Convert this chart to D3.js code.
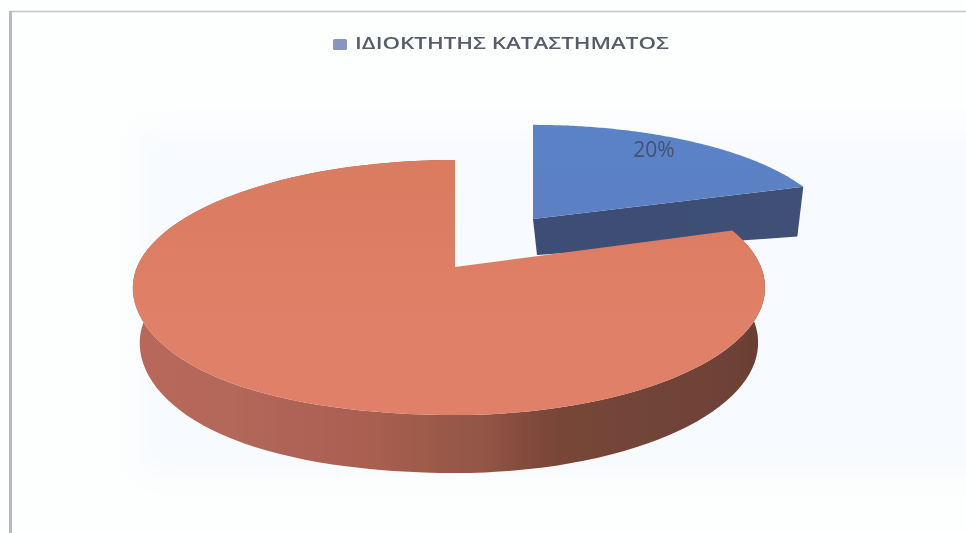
<html>

<head>
  <meta charset="utf-8">
  <style>
    html, body { margin: 0; padding: 0; background: #fdfefe; }
    svg { display: block; }
    text { font-family: "Open Sans", "Noto Sans", sans-serif; }
  </style>
</head>

<body>
  <svg id="chart"></svg>
  <script src="https://cdn.jsdelivr.net/npm/d3@7"></script>
  <script>
    // data
    var values = [20, 80];
    var labels = ["20%", ""];
    var legendItems = ["ΙΔΙΟΚΤΗΤΗΣ ΚΑΤΑΣΤΗΜΑΤΟΣ"];

    var width = 966, height = 533;
    var persp = 0.161; // the back of the disc looks smaller than the front

    // where each slice sits once it is pulled apart
    var placeBlue = { x: 533, y: 219, sx: 0.975, sy: 0.88 };
    var placeOrange = { x: 455, y: 267, sx: 1, sy: 1 };

    var svg = d3.select("#chart").attr("width", width).attr("height", height);
    var defs = svg.append("defs");

    // the reference is a soft scan
    defs.append("filter").attr("id", "soft")
      .append("feGaussianBlur").attr("stdDeviation", 0.6);
    defs.append("filter").attr("id", "haze")
      .attr("x", "-10%").attr("y", "-10%").attr("width", "120%").attr("height", "120%")
      .append("feGaussianBlur").attr("stdDeviation", 14);

    function gradient(id, x1, x2, y1, y2, stops) {
      var g = defs.append("linearGradient").attr("id", id)
        .attr("gradientUnits", "userSpaceOnUse")
        .attr("x1", x1).attr("x2", x2).attr("y1", y1).attr("y2", y2);
      stops.forEach(function (s) {
        g.append("stop").attr("offset", s[0]).attr("stop-color", s[1]);
      });
    }
    gradient("orangeWall", 140, 760, 0, 0, [
      [0, "#b8675a"], [0.15, "#b3675a"], [0.37, "#a95f50"], [0.55, "#935645"],
      [0.66, "#7a4638"], [0.8, "#714438"], [0.94, "#6e4337"], [1, "#6a4035"]
    ]);
    gradient("orangeTop", 0, 0, 160, 415, [[0, "#d97b60"], [0.6, "#df8067"], [1, "#e08068"]]);
    gradient("blueTop", 0, 0, 124, 235, [[0, "#5a83c8"], [1, "#5b80c2"]]);
    gradient("blueWall", 537, 800, 0, 0, [[0, "#3c4d74"], [1, "#3f5074"]]);

    // angle + radius on the pie -> screen position
    function project(angle, r, place, drop) {
      var u = Math.sin(angle) * r;
      var v = -Math.cos(angle) * r;
      var den = 1 - persp * v;
      var ax = u < 0 ? 318 : 306;
      var p = [
        place.x + place.sx * ax * u / den,
        place.y + place.sy * 124.2 * v / den
      ];
      // lower left of the disc bulges a little in the scan
      if (u < 0 && v > 0) p[1] += 16 * u * u * v * v;
      if (drop) {
        var d = drop(u, v);
        p[0] += d[0];
        p[1] += d[1];
      }
      return p;
    }

    // offset of the underside of the disc
    function dropOrange(u, v) { return [-u * 7, 54 + 4 * v]; }
    function dropBlue(u, v) { return [4 - 10.5 * u, 36 + 14.5 * u]; }

    function arcPoints(a0, a1, place, drop) {
      return d3.range(0, 121).map(function (i) {
        return project(a0 + (a1 - a0) * i / 120, 1, place, drop);
      });
    }

    var line = d3.line();
    var pie = d3.pie().sort(null);
    var slices = pie(values);
    var blue = slices[0], orange = slices[1];

    // faint blue cast behind the chart
    svg.append("rect")
      .attr("x", 140).attr("y", 130).attr("width", 860).attr("height", 345)
      .attr("fill", "#f7fafe").attr("filter", "url(#haze)");

    var marks = svg.append("g").attr("filter", "url(#soft)");

    // blue slice: front wall, then top
    var bApex = project(0, 0, placeBlue);
    var bApexLow = project(0, 0, placeBlue, dropBlue);
    var bCorner = project(blue.endAngle, 1, placeBlue);
    var bCornerLow = project(blue.endAngle, 1, placeBlue, dropBlue);
    marks.append("path")
      .attr("d", line([bApex, bCorner, bCornerLow, bApexLow]) + "Z")
      .attr("fill", "url(#blueWall)");
    marks.append("path")
      .attr("d", line([bApex].concat(arcPoints(blue.startAngle, blue.endAngle, placeBlue))) + "Z")
      .attr("fill", "url(#blueTop)");

    // orange slice: rim wall, then top
    var rimTop = arcPoints(orange.startAngle, orange.endAngle, placeOrange);
    var rimLow = arcPoints(orange.startAngle, orange.endAngle, placeOrange, dropOrange);
    marks.append("path")
      .attr("d", line(rimTop.concat(rimLow.reverse())) + "Z")
      .attr("fill", "url(#orangeWall)");
    marks.append("path")
      .attr("d", line([project(0, 0, placeOrange)].concat(rimTop)) + "Z")
      .attr("fill", "url(#orangeTop)");

    // data label
    var lab = project(blue.startAngle + 0.576, 0.85, placeBlue);
    marks.append("text")
      .attr("x", lab[0] - 3).attr("y", lab[1] + 2)
      .attr("text-anchor", "middle").attr("dominant-baseline", "middle")
      .attr("font-size", 21).attr("fill", "#47516c")
      .text(labels[0]);

    // legend
    marks.append("rect")
      .attr("x", 333).attr("y", 39).attr("width", 14).attr("height", 11).attr("rx", 1.5)
      .attr("fill", "#8a94c2");
    marks.append("text")
      .attr("x", 355).attr("y", 49)
      .attr("font-size", 17).attr("font-weight", 600).attr("fill", "#565c68")
      .attr("textLength", 314).attr("lengthAdjust", "spacingAndGlyphs")
      .text(legendItems[0]);

    // scanned frame
    svg.append("line").attr("x1", 9).attr("x2", width).attr("y1", 11.5).attr("y2", 11.5)
      .attr("stroke", "#c6c6ca").attr("stroke-width", 1.4);
    svg.append("line").attr("x1", 10.5).attr("x2", 10.5).attr("y1", 11).attr("y2", height)
      .attr("stroke", "#b8b8c0").attr("stroke-width", 3);
  </script>
</body>

</html>
